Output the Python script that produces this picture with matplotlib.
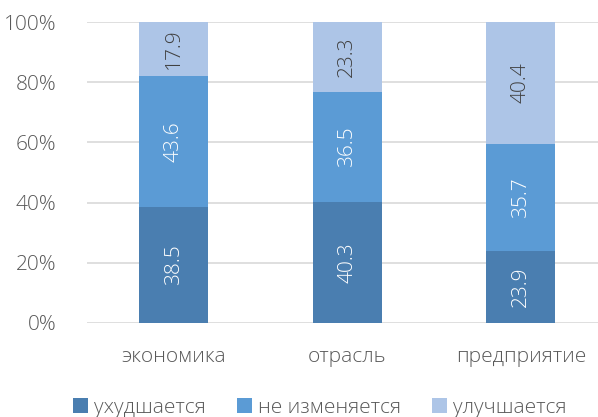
import matplotlib.pyplot as plt
import numpy as np

categories = ["экономика", "отрасль", "предприятие"]
series_names = ["ухудшается", "не изменяется", "улучшается"]
worse = [38.5, 40.3, 23.9]
same = [43.6, 36.5, 35.7]
better = [17.9, 23.3, 40.4]

colors = ["#4a7eb0", "#5b9bd5", "#adc5e7"]
label_colors = ["white", "white", "#404040"]
text_color = "#595959"


def main() -> None:
    plt.rcParams["font.family"] = ["Open Sans", "DejaVu Sans"]
    plt.rcParams["font.weight"] = "light"

    figure = plt.figure(figsize=(5.98, 4.17), dpi=100)
    axis = figure.add_axes([87 / 598, 1 - 323 / 417, 511 / 598, 301 / 417])

    x = np.arange(len(categories))
    bottom = np.zeros(len(categories))
    for name, values, color, label_color in zip(
        series_names, [worse, same, better], colors, label_colors
    ):
        values = np.array(values)
        bars = axis.bar(x, values, 0.4, bottom=bottom, color=color,
                        label=name, zorder=3)
        for bar, value, b in zip(bars, values, bottom):
            axis.text(bar.get_x() + bar.get_width() / 2, b + value / 2,
                      f"{value:.1f}", rotation=90, ha="center", va="center",
                      color=label_color, fontsize=15, zorder=4)
        bottom += values

    axis.set_xlim(-0.5, 2.445)
    axis.set_ylim(0, 100)
    axis.set_yticks(np.arange(0, 101, 20))
    axis.set_yticklabels([f"{v}%" for v in range(0, 101, 20)])
    axis.set_xticks(x)
    axis.set_xticklabels(categories)
    axis.tick_params(length=0, labelsize=15, colors=text_color)
    axis.tick_params(axis="x", pad=17)
    axis.tick_params(axis="y", pad=22)
    axis.grid(axis="y", color="#d9d9d9", linewidth=1.2, zorder=0)
    for spine in axis.spines.values():
        spine.set_visible(False)

    figure.legend(loc="center", bbox_to_anchor=(320 / 598, 1 - 408 / 417),
                  ncol=3, frameon=False, fontsize=15, labelcolor=text_color,
                  handlelength=0.7, handleheight=0.7, handletextpad=0.3,
                  columnspacing=1.5)

    figure.savefig("out.png", dpi=100)


if __name__ == "__main__":
    main()
